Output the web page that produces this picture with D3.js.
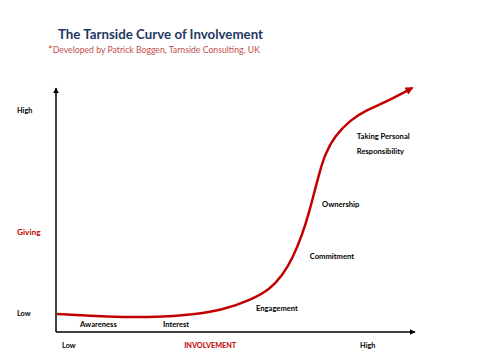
<!DOCTYPE html>
<html>
<head>
<meta charset="utf-8">
<script src="https://cdn.jsdelivr.net/npm/d3@7"></script>
<style>
  body { margin: 0; background: #fff; }
  svg { display: block; font-family: Lato, "Noto Sans", sans-serif; }
</style>
</head>
<body>
<svg id="chart" width="480" height="360"></svg>
<script>
// curve of involvement (x = involvement, y = giving), both 0..10
const involvement = [0.03, 0.95, 1.87, 2.81, 3.73, 4.65, 5.4, 5.96, 6.3, 6.6, 6.85, 7.05, 7.2, 7.35, 7.5, 7.75, 8.19, 8.66, 9.22, 9.92];
const giving = [0.74, 0.66, 0.61, 0.61, 0.7, 0.9, 1.3, 1.75, 2.3, 3.05, 3.95, 4.9, 5.75, 6.6, 7.3, 8.0, 8.69, 9.1, 9.45, 10.0];

// stage labels
const stages = ["Awareness", "Interest", "Engagement", "Commitment", "Ownership", "Taking Personal", "Responsibility"];
const stageX = [0.67, 2.98, 5.57, 7.07, 7.41, 8.38, 8.38];
const stageY = [0.33, 0.33, 0.98, 3.11, 5.25, 8.03, 7.42];

const yTicks = ["High", "Giving", "Low"];
const yTickVals = [9.1, 4.1, 0.75];
const xTicks = ["Low", "INVOLVEMENT", "High"];
const xTickVals = [0.17, 3.57, 8.47];

const width = 480;
const height = 360;
const svg = d3.select("#chart");

const x = d3.scaleLinear().domain([0, 10]).range([56, 415]);
const y = d3.scaleLinear().domain([0, 10]).range([332, 88]);

const red = "#c00000";

// arrow markers
const defs = svg.append("defs");
defs.append("marker")
  .attr("id", "axisArrow")
  .attr("viewBox", "0 0 10 10")
  .attr("refX", 9).attr("refY", 5)
  .attr("markerWidth", 6).attr("markerHeight", 6)
  .attr("markerUnits", "userSpaceOnUse")
  .attr("orient", "auto")
  .append("path").attr("d", "M0,0L10,5L0,10z").attr("fill", "#000");
defs.append("marker")
  .attr("id", "curveArrow")
  .attr("viewBox", "0 0 10 10")
  .attr("refX", 8).attr("refY", 5)
  .attr("markerWidth", 9).attr("markerHeight", 8)
  .attr("markerUnits", "userSpaceOnUse")
  .attr("orient", "auto")
  .append("path").attr("d", "M0,0L10,5L0,10z").attr("fill", red);

// title
svg.append("text")
  .attr("x", 58).attr("y", 39)
  .attr("font-size", 13.3).attr("font-weight", "bold")
  .attr("fill", "#1f3864")
  .text("The Tarnside Curve of Involvement");
const sub = svg.append("text")
  .attr("x", 48).attr("y", 53)
  .attr("font-size", 8.7).attr("fill", "#c0504d");
sub.append("tspan").attr("font-size", 11).attr("dy", "1").text("*");
sub.append("tspan").attr("dy", "-1").text("Developed by Patrick Boggen, Tarnside Consulting, UK");

// axes
svg.append("line")
  .attr("x1", x(0)).attr("y1", y(0))
  .attr("x2", x(0)).attr("y2", y(10))
  .attr("stroke", "#000").attr("stroke-width", 1.5)
  .attr("marker-end", "url(#axisArrow)");
svg.append("line")
  .attr("x1", x(0)).attr("y1", y(0))
  .attr("x2", x(10)).attr("y2", y(0))
  .attr("stroke", "#000").attr("stroke-width", 1.5)
  .attr("marker-end", "url(#axisArrow)");

// y labels
svg.selectAll(".ylab")
  .data(yTicks)
  .join("text")
  .attr("class", "ylab")
  .attr("x", 17)
  .attr("y", (d, i) => y(yTickVals[i]))
  .attr("dy", "0.35em")
  .attr("font-size", (d, i) => (i === 1 ? 8.3 : 7.3))
  .attr("font-weight", "bold")
  .attr("fill", (d, i) => (i === 1 ? red : "#000"))
  .text((d) => d);

// x labels
svg.selectAll(".xlab")
  .data(xTicks)
  .join("text")
  .attr("class", "xlab")
  .attr("x", (d, i) => x(xTickVals[i]))
  .attr("y", 348)
  .attr("font-size", 7.3)
  .attr("font-weight", "bold")
  .attr("fill", (d, i) => (i === 1 ? red : "#000"))
  .text((d) => d);

// curve
const pts = involvement.map((v, i) => [v, giving[i]]);
const line = d3.line()
  .x((d) => x(d[0]))
  .y((d) => y(d[1]))
  .curve(d3.curveBasis);
svg.append("path")
  .attr("d", line(pts))
  .attr("fill", "none")
  .attr("stroke", red)
  .attr("stroke-width", 2.5)
  .attr("marker-end", "url(#curveArrow)");

// stage labels
svg.selectAll(".stage")
  .data(stages)
  .join("text")
  .attr("class", "stage")
  .attr("x", (d, i) => x(stageX[i]))
  .attr("y", (d, i) => y(stageY[i]))
  .attr("dy", "0.35em")
  .attr("font-size", 7.6)
  .attr("font-weight", "bold")
  .attr("fill", "#000")
  .text((d) => d);
</script>
</body>
</html>
